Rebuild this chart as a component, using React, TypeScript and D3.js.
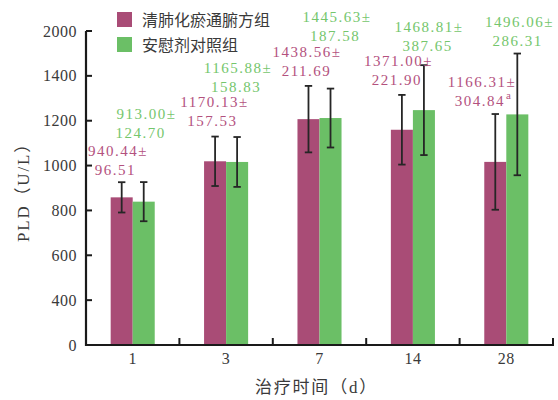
import React from "react";
import * as d3 from "d3";

// Treatment days (x categories)
const days = ["1", "3", "7", "14", "28"];
const seriesNames = ["清肺化瘀通腑方组", "安慰剂对照组"];

// Bar heights and error bars (mean ± SD, U/L)
const treatMean = [940.44, 1170.13, 1438.56, 1371.0, 1166.31];
const treatSD = [96.51, 157.53, 211.69, 221.9, 304.84];
const placeboMean = [913.0, 1165.88, 1445.63, 1496.06, 1468.81];
const placeboSD = [124.7, 158.83, 187.58, 286.31, 387.65];

// Annotation values printed above each day's bars
const treatNoteMean = [940.44, 1170.13, 1438.56, 1371.0, 1166.31];
const treatNoteSD = [96.51, 157.53, 211.69, 221.9, 304.84];
const treatNoteMark = ["", "", "", "", "a"];
const placeboNoteMean = [913.0, 1165.88, 1445.63, 1468.81, 1496.06];
const placeboNoteSD = [124.7, 158.83, 187.58, 387.65, 286.31];

// Y axis tick labels
const yTickText = ["0", "400", "600", "800", "1000", "1200", "1400", "2000"];

const W = 558;
const H = 400;
const M = { left: 86, right: 553, top: 31, bottom: 345 };

const COLORS = ["#a94c76", "#6bbf66"];
const TEXT_COLORS = ["#b3517e", "#74c66c"];
const INK = "#3a3a3a";
const SERIF = "'Liberation Serif', 'Times New Roman', 'DejaVu Serif', serif";
const CJK = "'Liberation Serif', 'Noto Sans CJK SC', serif";

// Annotation placement: horizontal shift of each line from the bar centre,
// and how far the first line sits above the error-bar cap.
const NOTE_LAYOUT = [
  [
    { dx1: -3.7, dx2: -6.2, lift: 31 },
    { dx1: -0.6, dx2: -2.6, lift: 35 },
    { dx1: -1.5, dx2: -2, lift: 34 },
    { dx1: -3.4, dx2: -4.9, lift: 34 },
    { dx1: -13.3, dx2: -11.8, lift: 32 },
  ],
  [
    { dx1: 2.8, dx2: -3.2, lift: 68 },
    { dx1: 0.9, dx2: -1.1, lift: 69 },
    { dx1: 6.5, dx2: 4.5, lift: 72 },
    { dx1: 5.1, dx2: 3.6, lift: 38 },
    { dx1: 2.2, dx2: 0.2, lift: 31.5 },
  ],
];
const LINE_GAP = 19;

export default function App() {
  const x0 = d3.scaleBand<string>().domain(days).range([M.left, M.right]).paddingInner(0).paddingOuter(0);
  const x1 = d3
    .scaleBand<number>()
    .domain([0, 1])
    .range([0, x0.bandwidth()])
    .paddingInner(0)
    .paddingOuter(1.12);
  const y = d3.scaleLinear().domain([0, 2000]).range([M.bottom, M.top]);

  const yTicks = d3.range(yTickText.length).map((i) => (i * 2000) / (yTickText.length - 1));

  const series = [
    { mean: treatMean, sd: treatSD, noteMean: treatNoteMean, noteSD: treatNoteSD, mark: treatNoteMark },
    { mean: placeboMean, sd: placeboSD, noteMean: placeboNoteMean, noteSD: placeboNoteSD, mark: days.map(() => "") },
  ];

  const boundaries = days.map((d) => (x0(d) as number) + x0.bandwidth());
  const capHalf = 3.7;

  return (
    <svg
      width={W}
      height={H}
      style={{ position: "absolute", left: 0, top: 0, background: "#fff", fontFamily: SERIF }}
    >
      {/* bars */}
      {series.map((s, si) =>
        days.map((d, i) => {
          const bx = (x0(d) as number) + (x1(si) as number);
          return (
            <rect
              key={`b${si}-${i}`}
              x={bx}
              y={y(s.mean[i])}
              width={x1.bandwidth()}
              height={y(0) - y(s.mean[i])}
              fill={COLORS[si]}
            />
          );
        })
      )}

      {/* error bars */}
      {series.map((s, si) =>
        days.map((d, i) => {
          const cx = (x0(d) as number) + (x1(si) as number) + x1.bandwidth() / 2;
          const top = y(s.mean[i] + s.sd[i]);
          const bot = y(s.mean[i] - s.sd[i]);
          return (
            <g key={`e${si}-${i}`} stroke="#262626" strokeWidth={1.8}>
              <line x1={cx} x2={cx} y1={top} y2={bot} />
              <line x1={cx - capHalf} x2={cx + capHalf} y1={top} y2={top} />
              <line x1={cx - capHalf} x2={cx + capHalf} y1={bot} y2={bot} />
            </g>
          );
        })
      )}

      {/* value annotations */}
      {series.map((s, si) =>
        days.map((d, i) => {
          const cx = (x0(d) as number) + (x1(si) as number) + x1.bandwidth() / 2;
          const top = y(s.mean[i] + s.sd[i]);
          const lay = NOTE_LAYOUT[si][i];
          const c1 = top - lay.lift;
          const c2 = c1 + LINE_GAP;
          return (
            <g
              key={`n${si}-${i}`}
              fill={TEXT_COLORS[si]}
              style={{ fontFamily: SERIF, fontSize: "15px", letterSpacing: "1.5px" }}
              textAnchor="middle"
            >
              <text x={cx + lay.dx1} y={c1 + 5}>{`${s.noteMean[i].toFixed(2)}±`}</text>
              <text x={cx + lay.dx2} y={c2 + 5}>
                {s.noteSD[i].toFixed(2)}
                {s.mark[i] ? (
                  <tspan style={{ fontSize: "11px" }} dy={-7} dx={1}>
                    {s.mark[i]}
                  </tspan>
                ) : null}
              </text>
            </g>
          );
        })
      )}

      {/* y axis */}
      <line x1={M.left} x2={M.left} y1={M.top} y2={M.bottom + 1} stroke="#1a1a1a" strokeWidth={2.2} />
      {yTicks.map((t, i) => (
        <g key={`yt${i}`}>
          <line x1={M.left} x2={M.left + 6} y1={y(t)} y2={y(t)} stroke="#1a1a1a" strokeWidth={2} />
          <text
            x={M.left - 9}
            y={y(t) + 5.5}
            textAnchor="end"
            style={{ fontFamily: SERIF, fontSize: "16px", letterSpacing: "0.5px" }}
            fill={INK}
          >
            {yTickText[i]}
          </text>
        </g>
      ))}

      {/* x axis */}
      <line x1={M.left - 1} x2={M.right + 1} y1={M.bottom} y2={M.bottom} stroke="#1a1a1a" strokeWidth={2.2} />
      {boundaries.map((bx, i) => (
        <line key={`xt${i}`} x1={bx} x2={bx} y1={M.bottom} y2={M.bottom - 7} stroke="#1a1a1a" strokeWidth={2} />
      ))}
      {days.map((d) => (
        <text
          key={`xl${d}`}
          x={(x0(d) as number) + x0.bandwidth() / 2}
          y={364}
          textAnchor="middle"
          style={{ fontFamily: SERIF, fontSize: "16px", letterSpacing: "0.5px" }}
          fill={INK}
        >
          {d}
        </text>
      ))}

      {/* axis titles */}
      <text
        x={(M.left + M.right) / 2 - 3}
        y={393}
        textAnchor="middle"
        style={{ fontFamily: CJK, fontSize: "17px", letterSpacing: "1.8px" }}
        fill={INK}
      >
        治疗时间（d）
      </text>
      <text
        transform={`translate(29, ${(M.top + M.bottom) / 2}) rotate(-90)`}
        textAnchor="middle"
        style={{ fontFamily: CJK, fontSize: "17px", letterSpacing: "1.8px" }}
        fill={INK}
      >
        PLD（U/L）
      </text>

      {/* legend */}
      {seriesNames.map((name, i) => (
        <g key={`lg${i}`} transform={`translate(117, ${12 + i * 25})`}>
          <rect width={15} height={15} fill={COLORS[i]} />
          <text x={25} y={13.5} style={{ fontFamily: CJK, fontSize: "16px" }} fill={INK}>
            {name}
          </text>
        </g>
      ))}
    </svg>
  );
}
